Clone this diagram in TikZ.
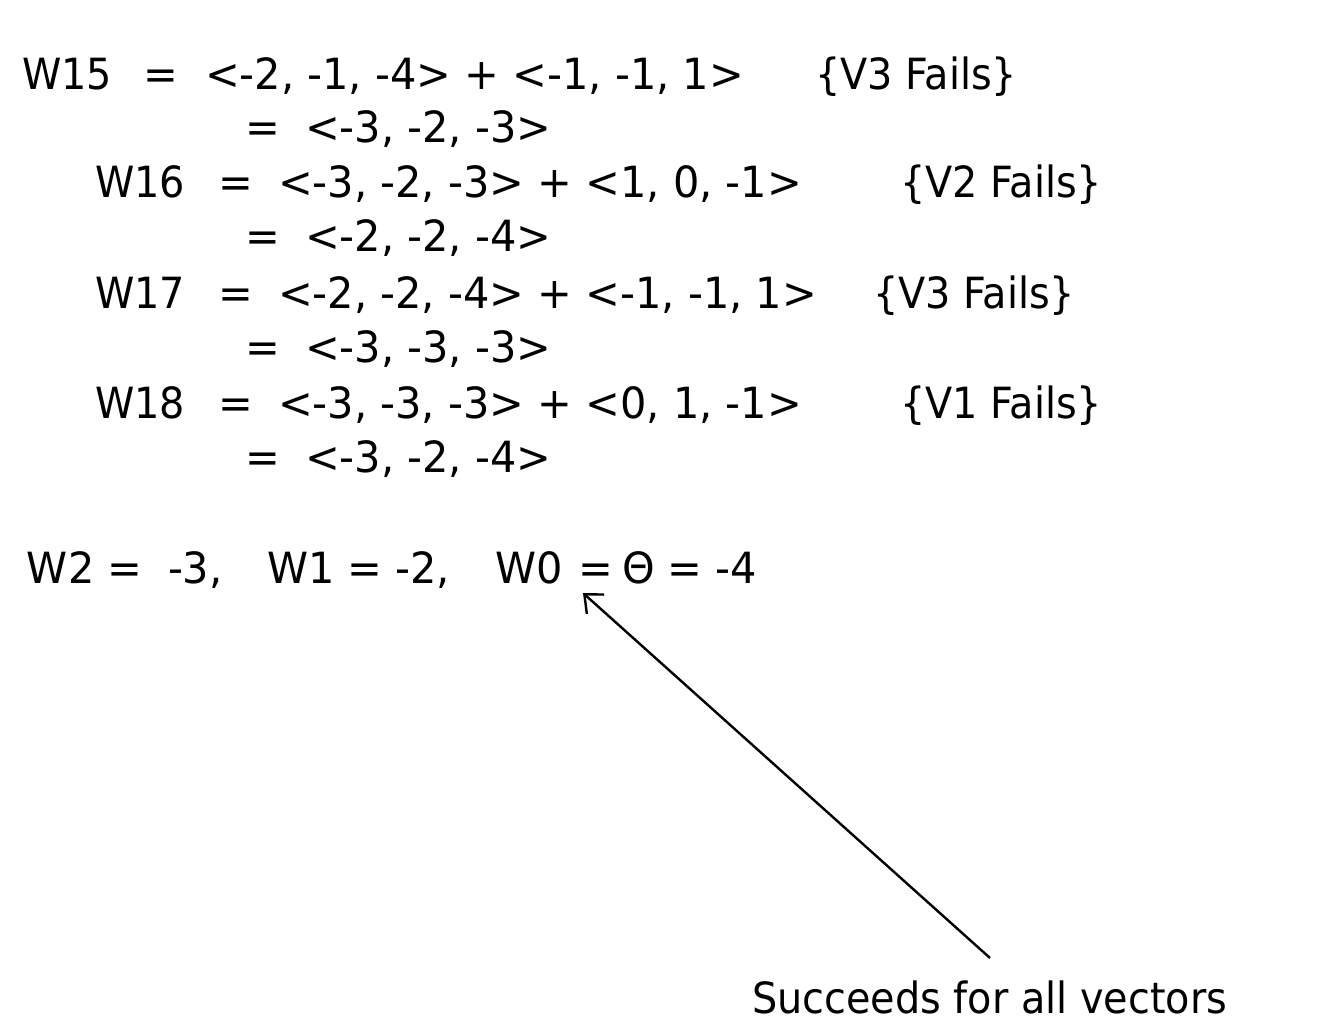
\documentclass[tikz,border=0pt]{standalone}
\usepackage{fontspec}
\setmainfont[FakeStretch=0.965]{DejaVu Sans}
\newfontfamily\narrowfam[FakeStretch=0.925]{DejaVu Sans}
\usetikzlibrary{arrows.meta}
\tikzset{
  txt/.style={anchor=base west, inner sep=0pt, outer sep=0pt, font=\fontsize{43}{50}\selectfont},
  wtxt/.style={txt, font=\fontsize{43}{50}\narrowfam},
  pointer/.style={line width=2.4pt, -{Straight Barb[length=15pt,width=26pt,line width=2.4pt]}}
}
\begin{document}
\begin{tikzpicture}[x=1pt,y=-1pt]
\useasboundingbox[fill=white] (0,0) rectangle (1335,1032);
% line 1
\node[wtxt] (w15) at (22,90) {W15};
\node[txt] (e15) at (143,90) {=};
\node[txt] (s15) at (205,90) {<-2, -1, -4> + <-1, -1, 1>};
\node[wtxt] (f15) at (815,90) {\{V3 Fails\}};
\node[txt] (e15b) at (245,143) {=};
\node[txt] (r15) at (305,143) {<-3, -2, -3>};
% line 3
\node[wtxt] (w16) at (95,198) {W16};
\node[txt] (e16) at (218,198) {=};
\node[txt] (s16) at (278,198) {<-3, -2, -3> + <1, 0, -1>};
\node[wtxt] (f16) at (900,198) {\{V2 Fails\}};
\node[txt] (e16b) at (245,252) {=};
\node[txt] (r16) at (305,252) {<-2, -2, -4>};
% line 5
\node[wtxt] (w17) at (95,308) {W17};
\node[txt] (e17) at (218,308) {=};
\node[txt] (s17) at (278,308) {<-2, -2, -4> + <-1, -1, 1>};
\node[wtxt] (f17) at (873,308) {\{V3 Fails\}};
\node[txt] (e17b) at (245,362) {=};
\node[txt] (r17) at (305,362) {<-3, -3, -3>};
% line 7
\node[wtxt] (w18) at (95,418) {W18};
\node[txt] (e18) at (218,418) {=};
\node[txt] (s18) at (278,418) {<-3, -3, -3> + <0, 1, -1>};
\node[wtxt] (f18) at (900,418) {\{V1 Fails\}};
\node[txt] (e18b) at (245,472) {=};
\node[txt] (r18) at (305,472) {<-3, -2, -4>};
% result line
\node[txt] (w2) at (27,583) {W2 =};
\node[txt] (v2) at (168,583) {-3,};
\node[txt] (w1) at (267,583) {W1 = -2,};
\node[txt] (w0) at (495,583) {W0};
\node[txt] (eq0) at (578,583) {=};
\node[txt] (th) at (622,583) {Θ = -4};
% note
\node[wtxt] (note) at (752,1013) {Succeeds for all vectors};
\coordinate (tail) at (990,958);
\draw[pointer] (tail) -- ([xshift=5pt,yshift=-10pt]eq0.south west);
\end{tikzpicture}
\end{document}
